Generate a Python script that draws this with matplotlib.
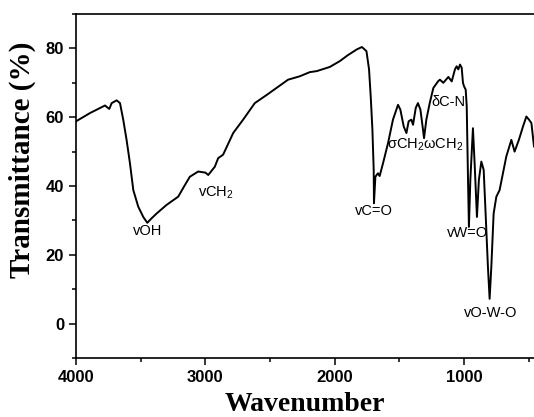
import matplotlib
matplotlib.use("Agg")
import matplotlib.pyplot as plt
from matplotlib.ticker import MultipleLocator

wavenumber = [4000, 3892, 3776, 3743, 3724, 3686, 3660, 3635, 3609, 3583, 3557, 3519,
              3480, 3449, 3416, 3377, 3300, 3210, 3158, 3120, 3056, 3020, 3000, 2978,
              2927, 2901, 2863, 2785, 2708, 2618, 2525, 2361, 2270, 2193, 2139, 2039,
              1961, 1900, 1830, 1790, 1755, 1735, 1722, 1709, 1699, 1697, 1686, 1666,
              1653, 1627, 1588, 1550, 1511, 1493, 1467, 1446, 1429, 1408, 1395, 1374,
              1357, 1338, 1318, 1310, 1292, 1266, 1238, 1200, 1187, 1161, 1122, 1096,
              1071, 1058, 1045, 1032, 1019, 1009, 1001, 988, 980, 970, 963, 952, 932,
              919, 901, 886, 867, 849, 834, 816, 803, 790, 772, 751, 726, 700, 674,
              635, 610, 577, 545, 519, 499, 480, 460]
transmittance = [58.8, 61.2, 63.4, 62.4, 64.1, 64.9, 64.1, 59.3, 53.4, 46.6, 38.8, 34.0,
                 31.0, 29.3, 30.6, 32.0, 34.5, 36.9, 40.3, 42.7, 44.2, 44.0, 43.9, 43.2,
                 45.6, 48.1, 49.1, 55.4, 59.3, 64.1, 66.5, 70.9, 71.9, 73.1, 73.4, 74.6,
                 76.3, 78.0, 79.7, 80.4, 79.2, 73.9, 66.0, 56.4, 44.7, 35.0, 42.7, 43.7,
                 42.9, 46.6, 52.5, 59.3, 63.6, 62.2, 57.3, 55.4, 58.8, 59.3, 57.8, 62.7,
                 64.1, 62.2, 56.4, 53.9, 59.3, 64.1, 68.5, 70.5, 70.9, 70.0, 71.7, 70.4,
                 73.9, 74.8, 73.9, 75.3, 74.4, 70.0, 69.0, 68.0, 63.2, 41.8, 28.1, 41.8,
                 56.8, 46.6, 31.0, 41.8, 47.1, 44.7, 32.0, 16.4, 7.2, 16.4, 32.0, 36.9,
                 38.8, 43.7, 48.6, 53.4, 50.0, 53.4, 57.3, 60.2, 59.3, 58.3, 51.5]

labels = ["vOH", "vCH$_2$", "vC=O", "\u03c3CH$_2$\u03c9CH$_2$", "\u03b4C-N", "vW=O", "vO-W-O"]
label_x = [3450, 3060, 1699, 1600, 1252, 976, 795]
label_y = [26.9, 38.0, 32.7, 52.0, 64.5, 26.3, 3.2]
label_ha = ["center", "left", "center", "left", "left", "center", "center"]

plt.rcParams["mathtext.default"] = "regular"

fig = plt.figure(figsize=(5.34, 4.17), dpi=100)
ax = fig.add_axes([76 / 534, 1 - 358 / 417, 1 - 76 / 534, (358 - 14) / 417])
ax.plot(wavenumber, transmittance, color="black", lw=1.4)
ax.set_xlim(4000, 460)
ax.set_ylim(-10, 90)

ax.xaxis.set_major_locator(MultipleLocator(1000))
ax.xaxis.set_minor_locator(MultipleLocator(500))
ax.yaxis.set_major_locator(MultipleLocator(20))
ax.yaxis.set_minor_locator(MultipleLocator(10))
ax.tick_params(which="major", direction="out", length=5, width=1.1)
ax.tick_params(which="minor", direction="out", length=3, width=1.1)
ax.tick_params(top=False, right=False)
for lab in ax.get_xticklabels() + ax.get_yticklabels():
    lab.set_fontfamily("Liberation Sans")
    lab.set_fontweight("bold")
    lab.set_fontsize(12)
ax.spines["right"].set_visible(False)
for s in ["left", "bottom", "top"]:
    ax.spines[s].set_linewidth(1.2)

ax.set_xlabel("Wavenumber", fontfamily="Liberation Serif", fontweight="bold",
              fontsize=20, labelpad=5)
ax.set_ylabel("Transmittance (%)", fontfamily="Liberation Serif", fontweight="bold",
              fontsize=21, labelpad=4)
ax.yaxis.set_label_coords(-0.088, 0.576)

for t, x, y, ha in zip(labels, label_x, label_y, label_ha):
    ax.text(x, y, t, fontfamily="Liberation Sans", fontsize=10.5, ha=ha, va="center")

fig.savefig("out.png", dpi=100)
